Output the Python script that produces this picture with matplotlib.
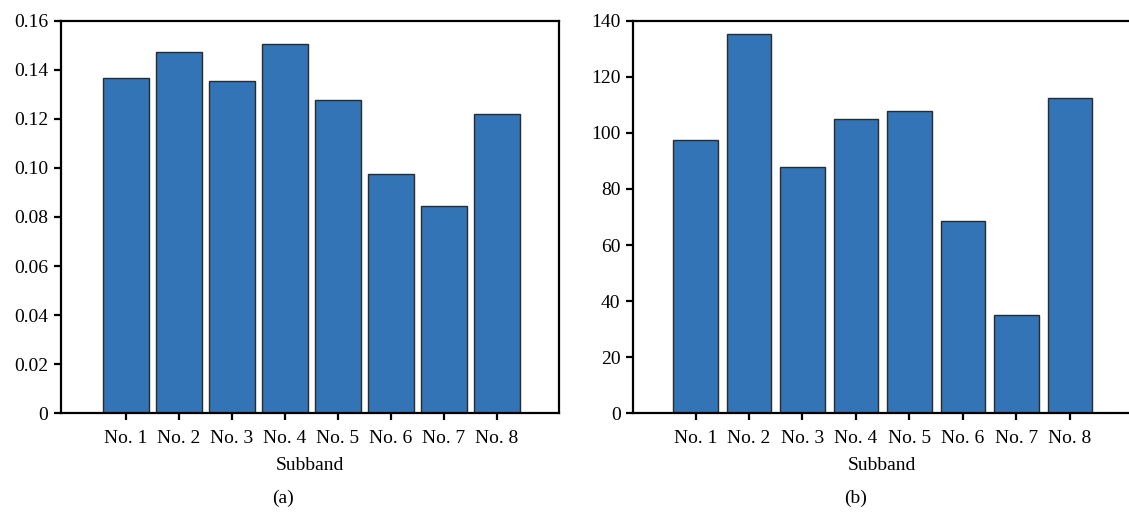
import numpy as np
import matplotlib
matplotlib.use('Agg')
import matplotlib.pyplot as plt

plt.rcParams['font.family'] = ['Liberation Serif', 'DejaVu Serif']

subbands = ['No. 1', 'No. 2', 'No. 3', 'No. 4', 'No. 5', 'No. 6', 'No. 7', 'No. 8']
vals_a = [0.1365, 0.1474, 0.1356, 0.1505, 0.1277, 0.0975, 0.0845, 0.1220]
vals_b = [97.5, 135.4, 87.9, 105.1, 107.9, 68.5, 35.2, 112.4]
yticks_a = [0, 0.02, 0.04, 0.06, 0.08, 0.10, 0.12, 0.14, 0.16]
yticklabels_a = ['0', '0.02', '0.04', '0.06', '0.08', '0.10', '0.12', '0.14', '0.16']
yticks_b = [0, 20, 40, 60, 80, 100, 120, 140]

bar_color = '#3274b6'
edge_color = '#2b2b2b'
fs = 14

fig = plt.figure(figsize=(11.29, 5.16), dpi=100)
ax1 = fig.add_axes([0.0538, 0.199, 0.4413, 0.761])
ax2 = fig.add_axes([0.5607, 0.199, 0.4413, 0.761])

x = np.arange(len(subbands))


def style(ax):
    for s in ax.spines.values():
        s.set_linewidth(1.6)
        s.set_color('black')
    ax.tick_params(axis='both', direction='out', length=5, width=1.6,
                   labelsize=fs, pad=4, color='black')
    ax.tick_params(axis='x', pad=7)
    ax.set_xticks(x)
    ax.set_xticklabels(subbands, fontsize=fs)
    ax.set_xlabel('Subband', fontsize=fs, labelpad=7)


ax1.bar(x, vals_a, width=0.87, color=bar_color, edgecolor=edge_color, linewidth=1)
ax1.set_xlim(-1.23, 8.17)
ax1.set_ylim(0, 0.16)
ax1.set_yticks(yticks_a)
ax1.set_yticklabels(yticklabels_a)
style(ax1)

ax2.bar(x, vals_b, width=0.83, color=bar_color, edgecolor=edge_color, linewidth=1)
ax2.set_xlim(-1.17, 8.15)
ax2.set_ylim(0, 140)
ax2.set_yticks(yticks_b)
style(ax2)

fig.text(0.251, 0.035, '(a)', ha='center', va='center', fontsize=fs)
fig.text(0.758, 0.035, '(b)', ha='center', va='center', fontsize=fs)

fig.savefig('out.png', dpi=100)
